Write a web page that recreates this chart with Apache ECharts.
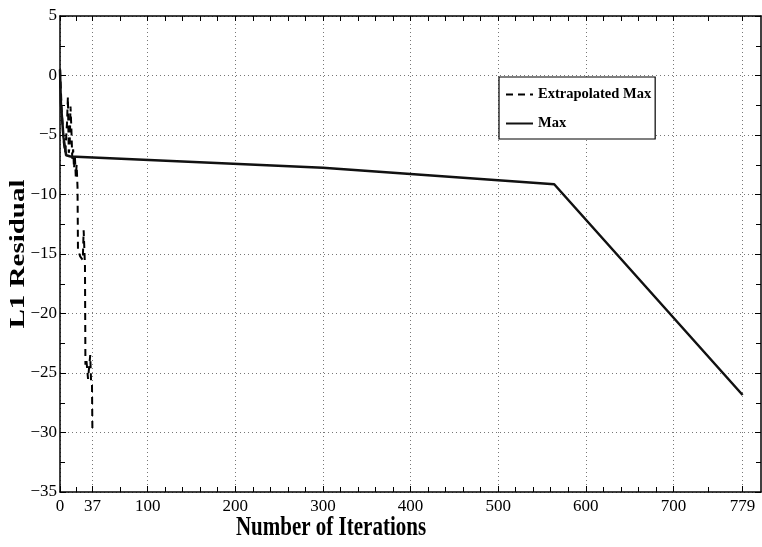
<!DOCTYPE html>
<html>
<head>
<meta charset="utf-8">
<script src="https://cdn.jsdelivr.net/npm/echarts@6/dist/echarts.min.js"></script>
<style>html,body{margin:0;padding:0;background:#fff}#c{width:762px;height:547px}</style>
</head>
<body>
<div id="c"></div>
<script>
// ---- data ----
const extrapX = [0, 2, 4, 6, 8, 9, 10, 11, 12, 13, 14, 15, 16, 17, 18, 19, 20, 20.5, 23, 26, 27, 28.5, 29, 30, 32, 34.5, 35.5, 36.5, 37];
const extrapY = [0.5, -3, -5.5, -6.5, -4, -1.8, -6.5, -6, -2.6, -4.5, -7, -6.2, -7.8, -6.8, -8.5, -7.5, -9.4, -14.6, -15.2, -15.5, -13, -16, -24.3, -23.8, -25.5, -23.5, -25.8, -26, -30];
const maxX = [0, 1, 4, 7, 12, 300, 564, 779];
const maxY = [0.5, -2.3, -5.2, -6.7, -6.8, -7.75, -9.14, -26.85];
const xTickLabels = [0, 37, 100, 200, 300, 400, 500, 600, 700, 779];
const xMinorTicks = [18.5, 68.5, 120, 140, 160, 180, 220, 240, 260, 280, 320, 340, 360, 380, 420, 440, 460, 480, 520, 540, 560, 580, 620, 640, 660, 680, 739.5];
const seriesNames = ['Extrapolated Max', 'Max'];
const xTitle = 'Number of Iterations';
const yTitle = 'L1 Residual';

const FONT = '"Liberation Serif", "Times New Roman", serif';
const chart = echarts.init(document.getElementById('c'), null, {renderer: 'canvas'});
const zip = (a, b) => a.map((v, i) => [v, b[i]]);
const minus = v => String(v).replace('-', '\u2212');
const axisLineStyle = {color: '#000', width: 1.5};
const gridStyle = {type: [1, 3], color: '#777', width: 1};

const option = {
  backgroundColor: '#fff',
  animation: false,
  grid: {left: 60, right: 1, top: 16, bottom: 55, containLabel: false},
  legend: {
    orient: 'vertical', left: 499, top: 77,
    data: seriesNames,
    backgroundColor: '#fff', borderColor: '#000', borderWidth: 1.2, borderRadius: 0,
    padding: [10, 4, 8, 6], itemGap: 14, itemWidth: 27, itemHeight: 14,
    itemStyle: {opacity: 0},
    textStyle: {fontFamily: FONT, fontWeight: 'bold', fontSize: 14.5, color: '#000'}
  },
  xAxis: [
    {
      type: 'value', min: 0, max: 800, position: 'bottom',
      axisLine: {show: true, onZero: false, lineStyle: axisLineStyle},
      axisTick: {show: true, inside: true, length: 6, customValues: xTickLabels, lineStyle: {color: '#000', width: 1}},
      axisLabel: {customValues: xTickLabels, fontFamily: FONT, fontSize: 17, color: '#000', margin: 6},
      splitLine: {show: true, lineStyle: gridStyle}
    },
    {
      type: 'value', min: 0, max: 800, position: 'bottom',
      axisLine: {show: false, onZero: false},
      axisTick: {show: true, inside: true, length: 5, customValues: xMinorTicks, lineStyle: {color: '#000', width: 1}},
      axisLabel: {show: false},
      splitLine: {show: false}
    },
    {
      type: 'value', min: 0, max: 800, position: 'top',
      axisLine: {show: true, onZero: false, lineStyle: axisLineStyle},
      axisTick: {show: true, inside: true, length: 5, customValues: xTickLabels.concat(xMinorTicks), lineStyle: {color: '#000', width: 1}},
      axisLabel: {show: false},
      splitLine: {show: false}
    }
  ],
  yAxis: [
    {
      type: 'value', min: -35, max: 5, interval: 5, position: 'left',
      axisLine: {show: true, onZero: false, lineStyle: axisLineStyle},
      axisTick: {show: true, inside: true, length: 6, lineStyle: {color: '#000', width: 1}},
      minorTick: {show: true, splitNumber: 2, length: 5, lineStyle: {color: '#000', width: 1}},
      axisLabel: {fontFamily: FONT, fontSize: 17, color: '#000', margin: 3, formatter: minus},
      splitLine: {show: true, lineStyle: gridStyle}
    },
    {
      type: 'value', min: -35, max: 5, interval: 5, position: 'right',
      axisLine: {show: true, onZero: false, lineStyle: axisLineStyle},
      axisTick: {show: true, inside: true, length: 6, lineStyle: {color: '#000', width: 1}},
      minorTick: {show: true, splitNumber: 2, length: 5, lineStyle: {color: '#000', width: 1}},
      axisLabel: {show: false},
      splitLine: {show: false}
    }
  ],
  series: [
    {
      name: seriesNames[0], type: 'line', xAxisIndex: 0, yAxisIndex: 0,
      data: zip(extrapX, extrapY), symbol: 'none', z: 3,
      lineStyle: {color: '#000', width: 2, type: [7, 5]},
      itemStyle: {color: '#000'}
    },
    {
      name: seriesNames[1], type: 'line', xAxisIndex: 0, yAxisIndex: 0,
      data: zip(maxX, maxY), symbol: 'none', z: 4,
      lineStyle: {color: '#111', width: 2.5, type: 'solid'},
      itemStyle: {color: '#111'}
    }
  ],
  graphic: [
    {
      type: 'text', x: 331, y: 528, scaleY: 1.25,
      style: {text: xTitle, font: 'bold 21px ' + FONT, fill: '#000', textAlign: 'center', textVerticalAlign: 'middle'}
    },
    {
      type: 'text', x: 19, y: 254, rotation: Math.PI / 2, scaleX: 1.45,
      style: {text: yTitle, font: 'bold 20px ' + FONT, fill: '#000', textAlign: 'center', textVerticalAlign: 'middle'}
    }
  ]
};
chart.setOption(option);
</script>
</body>
</html>
